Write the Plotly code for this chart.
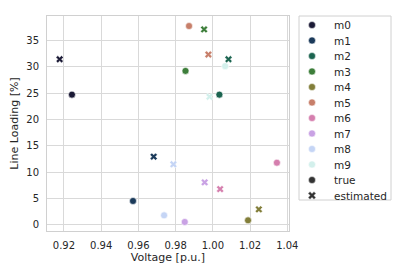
import plotly.graph_objects as go

labels = ["m0", "m1", "m2", "m3", "m4", "m5", "m6", "m7", "m8", "m9"]
colors = ["#1b1a36", "#1b3a5a", "#1b6450", "#3d7e3a", "#827e3a",
          "#c77f6a", "#d57fae", "#c9a2e4", "#c5d5f5", "#d3f0ec"]
true_v = [0.9243, 0.9571, 1.0035, 0.9853, 1.0189, 0.9872, 1.0344, 0.9849, 0.9738, 1.0066]
true_l = [24.7, 4.55, 24.7, 29.2, 0.88, 37.7, 11.8, 0.57, 1.83, 30.1]
est_v = [0.9177, 0.9682, 1.0084, 0.9953, 1.0247, 0.9976, 1.0039, 0.9956, 0.9788, 0.9982]
est_l = [31.4, 12.94, 31.4, 37.06, 2.97, 32.3, 6.8, 8.08, 11.5, 24.3]
kind_labels = ["true", "estimated"]
kind_symbols = ["circle", "x"]
kind_color = "#333333"

OFF = 8  # page body margin
W, H = 415 - OFF, 277 - OFF
ml, mr, mt, mb = 47 - OFF, 20 - OFF, 16 - OFF, 46
pw, ph = W - ml - mr, H - mt - mb
plot_right = 289 - OFF
leg_left, leg_right, leg_bottom = 299 - OFF, 391 - OFF, 200 - OFF
leg_first, leg_step = 25 - OFF, 15.5

fig = go.Figure()
for i, name in enumerate(labels):
    fig.add_trace(go.Scatter(x=[true_v[i]], y=[true_l[i]], mode="markers", name=name,
                             marker=dict(symbol="circle", size=7, color=colors[i],
                                         line=dict(width=0.6, color="white"))))
    fig.add_trace(go.Scatter(x=[est_v[i]], y=[est_l[i]], mode="markers", name=name,
                             marker=dict(symbol="x", size=6.5, color=colors[i],
                                         line=dict(width=0.5, color="white"))))

# legend drawn on its own small axis
leg_names = labels + kind_labels
leg_colors = colors + [kind_color, kind_color]
leg_symbols = ["circle"] * len(labels) + kind_symbols
leg_idx = list(range(len(leg_names)))
fig.add_trace(go.Scatter(x=[13] * len(leg_names), y=leg_idx, mode="markers",
                         xaxis="x2", yaxis="y2", hoverinfo="skip",
                         marker=dict(symbol=leg_symbols, size=7, color=leg_colors,
                                     line=dict(width=0.5, color="white"))))
for i, n in enumerate(leg_names):
    fig.add_annotation(x=33, y=i, xref="x2", yref="y2", text=n, showarrow=False,
                       xanchor="left", yanchor="middle",
                       font=dict(size=10.5, color="#262626"))
fig.add_shape(type="rect", xref="x2 domain", yref="y2 domain", x0=0, x1=1, y0=0, y1=1,
              line=dict(color="#d0d0d0", width=1), fillcolor="rgba(0,0,0,0)")

axis_common = dict(showgrid=True, gridcolor="#d9d9d9", gridwidth=1, automargin=False,
                   showline=True, linecolor="#d0d0d0", linewidth=1, mirror=True,
                   zeroline=False, ticks="outside", ticklen=5, tickcolor="rgba(0,0,0,0)",
                   tickfont=dict(size=10, color="#262626"),
                   title_font=dict(size=11, color="#262626"))
fig.update_layout(
    xaxis=dict(domain=[0, (plot_right - ml) / pw], range=[0.9109, 1.0409],
               tickvals=[0.92, 0.94, 0.96, 0.98, 1.00, 1.02, 1.04],
               ticktext=["0.92", "0.94", "0.96", "0.98", "1.00", "1.02", "1.04"],
               title_text="Voltage [p.u.]", title_standoff=3, **axis_common),
    yaxis=dict(range=[-1.14, 39.6], tickvals=[0, 5, 10, 15, 20, 25, 30, 35],
               title_text="Line Loading [%]", title_standoff=7, **axis_common),
    xaxis2=dict(domain=[(leg_left - ml) / pw, (leg_right - ml) / pw], range=[0, leg_right - leg_left],
                visible=False, fixedrange=True, anchor="y2", automargin=False),
    yaxis2=dict(domain=[(mt + ph - leg_bottom) / ph, 1],
                range=[(leg_bottom - leg_first) / leg_step, (mt - leg_first) / leg_step],
                visible=False, fixedrange=True, anchor="x2", automargin=False),
    width=W, height=H,
    margin=dict(l=ml, r=mr, t=mt, b=mb),
    plot_bgcolor="white", paper_bgcolor="white",
    font=dict(family="DejaVu Sans", size=10, color="#262626"),
    showlegend=False,
)
fig.write_html("out.html")
